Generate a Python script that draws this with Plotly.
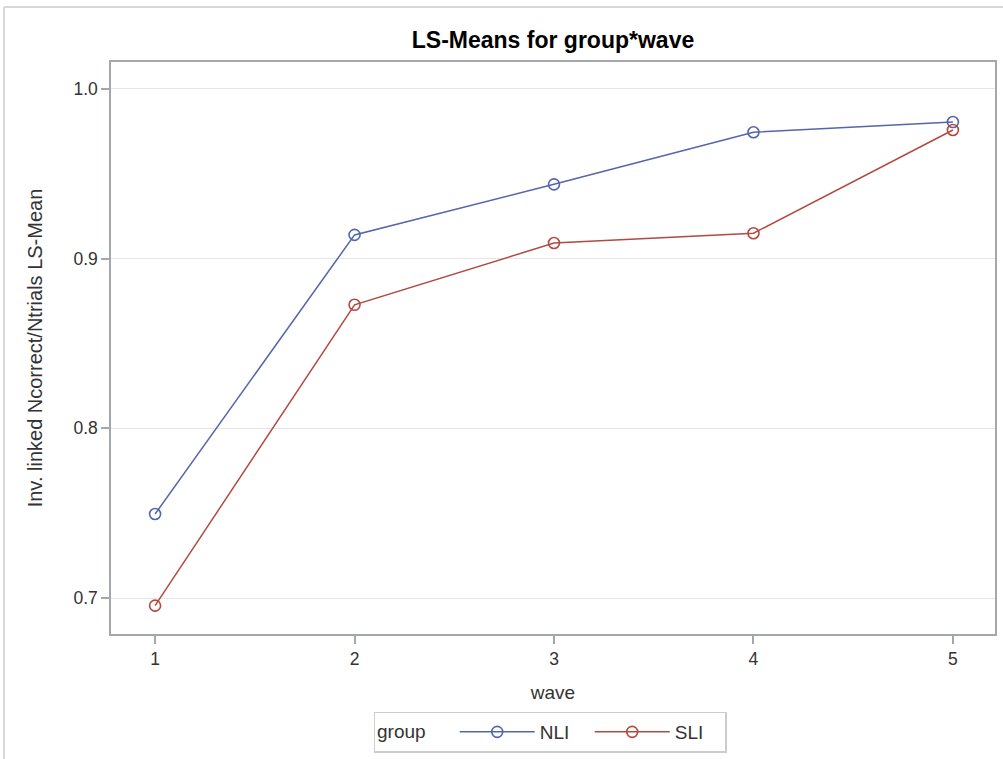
import plotly.graph_objects as go

waves = [1, 2, 3, 4, 5]
nli = [0.7495, 0.9140, 0.9438, 0.9745, 0.9805]
sli = [0.6955, 0.8728, 0.9092, 0.9150, 0.9758]
y_ticks = [0.7, 0.8, 0.9, 1.0]
y_tick_labels = ["0.7", "0.8", "0.9", "1.0"]

W, H = 1003, 759
L, R, T, B = 111, 995, 62, 634

blue = "#5465ab"
red = "#b24a40"
axis_gray = "#a4a8ac"
font = "Liberation Sans, Arial, sans-serif"

fig = go.Figure()
fig.add_trace(go.Scatter(x=waves, y=nli, name="NLI", mode="lines+markers",
                         line=dict(color=blue, width=1.5),
                         marker=dict(symbol="circle-open", size=11, color=blue, line=dict(width=1.6))))
fig.add_trace(go.Scatter(x=waves, y=sli, name="SLI", mode="lines+markers",
                         line=dict(color=red, width=1.5),
                         marker=dict(symbol="circle-open", size=11, color=red, line=dict(width=1.6))))

def px_x(p):
    return (p - L) / (R - L)

def px_y(p):
    return (B - p) / (B - T)

fig.update_layout(
    width=W, height=H,
    margin=dict(l=L, r=W - R, t=T, b=H - B, autoexpand=False),
    paper_bgcolor="white", plot_bgcolor="white",
    font=dict(family=font, size=18, color="#333333"),
    title=dict(text="<b>LS-Means for group*wave</b>", xref="container", x=553 / W, xanchor="center",
               yref="container", y=1 - 40 / H, yanchor="middle", font=dict(size=23, color="black")),
    xaxis=dict(range=[0.779, 5.211], tickvals=waves, ticktext=[str(w) for w in waves],
               showgrid=False, zeroline=False, showline=True, linecolor=axis_gray, linewidth=1.5,
               mirror=True, ticks="outside", ticklen=8, tickcolor=axis_gray, tickwidth=1.5,
               tickfont=dict(size=17.5, color="#333333"),
               title=dict(text="wave", font=dict(size=19, color="#333333"), standoff=18)),
    yaxis=dict(range=[0.6788, 1.0159], tickvals=y_ticks, ticktext=y_tick_labels,
               showgrid=True, gridcolor="#e6e6e6", gridwidth=1.2, zeroline=False,
               showline=True, linecolor=axis_gray, linewidth=1.5, mirror=True,
               ticks="outside", ticklen=8, tickcolor=axis_gray, tickwidth=1.5,
               tickfont=dict(size=17.5, color="#333333"),
               title=dict(text="Inv. linked Ncorrect/Ntrials LS-Mean", font=dict(size=20, color="#333333"), standoff=25)),
    legend=dict(orientation="h", x=px_x(550), xanchor="center", y=px_y(732), yanchor="middle",
                bordercolor="#cccccc", borderwidth=1.5, bgcolor="white",
                title=dict(text="group    ", font=dict(size=19, color="#333333")),
                font=dict(size=19, color="#333333"), itemwidth=75, tracegroupgap=0,
                entrywidth=45, entrywidthmode="pixels"),
    showlegend=True,
)

fig.add_shape(type="line", xref="paper", yref="paper", x0=px_x(4), x1=px_x(4), y0=px_y(7), y1=px_y(H + 5),
              line=dict(color="#d8d8d8", width=2))
fig.add_shape(type="line", xref="paper", yref="paper", x0=px_x(4), x1=px_x(W + 5), y0=px_y(7), y1=px_y(7),
              line=dict(color="#d8d8d8", width=2))

fig.write_html("out.html", config={"displayModeBar": False},
               post_script="document.body.style.margin='0';document.body.style.overflow='hidden';")
